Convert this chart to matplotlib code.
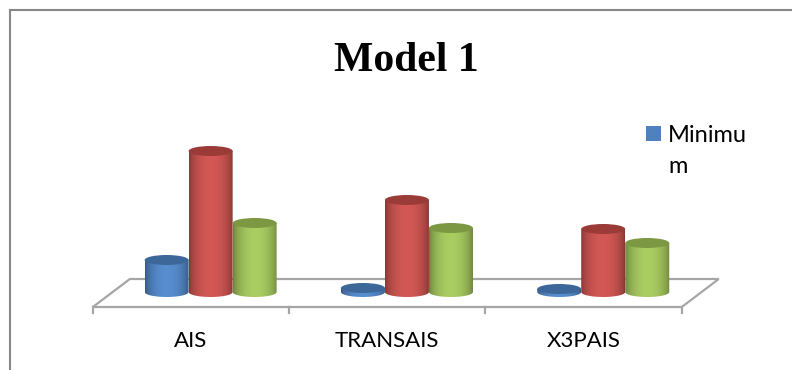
import numpy as np
import matplotlib
matplotlib.use("Agg")
import matplotlib.pyplot as plt
from matplotlib.path import Path
from matplotlib.patches import PathPatch, Ellipse, Polygon, Rectangle
from matplotlib.lines import Line2D

categories = ["AIS", "TRANSAIS", "X3PAIS"]
minimum = [32, 4, 3]
series_2 = [141, 92, 63]
series_3 = [69, 64, 49]
series = [minimum, series_2, series_3]

body_colors = ["#4F81BD", "#C0504D", "#9BBB59"]
top_colors = ["#3D6798", "#9A3B38", "#7C9842"]

W, H = 792, 370
fig = plt.figure(figsize=(W / 100, H / 100), dpi=100)
ax = fig.add_axes([0, 0, 1, 1])
ax.set_axis_off()

# category i sits at pixel column 191 + 196.3*i, value 0 at pixel row 292
px_per_cat = 196.3
x_left = -191 / px_per_cat
x_right = (W - 191) / px_per_cat
y_bottom, y_top = 292 - H, 292

bar_w = 44 / px_per_cat
depth = 37 / px_per_cat
shift = 0.1
ry = 5.0

# floor of the 3d plot
front, back = -15, 13
floor = Polygon([(-0.5, front), (2.5, front), (2.5 + depth, back), (-0.5 + depth, back)],
                closed=True, facecolor="white", edgecolor="#A6A6A6", lw=1.6, zorder=1)
ax.add_patch(floor)
for t in np.arange(-0.5, 3.0, 1.0):
    ax.plot([t, t], [front, front - 6], color="#A6A6A6", lw=1.6, zorder=1)


def shade(hex_color, n=64):
    base = np.array(matplotlib.colors.to_rgb(hex_color))
    t = np.linspace(0, 1, n)
    f = 0.68 + 0.42 * np.sin(np.pi * t) ** 0.6
    rgb = np.clip(base[None, :] * f[:, None], 0, 1)
    return rgb[None, :, :]


def cylinder(xc, h, color, top):
    x0, x1 = xc - bar_w / 2, xc + bar_w / 2
    ang = np.linspace(np.pi, 2 * np.pi, 40)
    pts = [(xc + bar_w / 2 * np.cos(a), ry * np.sin(a)) for a in ang]
    pts += [(x1, h), (x0, h), pts[0]]
    codes = [Path.MOVETO] + [Path.LINETO] * (len(pts) - 2) + [Path.CLOSEPOLY]
    body = PathPatch(Path(pts, codes), facecolor="none", edgecolor="none", zorder=3)
    ax.add_patch(body)
    im = ax.imshow(shade(color), extent=[x0, x1, -ry, h], aspect="auto",
                   interpolation="bilinear", zorder=3)
    im.set_clip_path(body)
    ax.add_patch(Ellipse((xc, h), bar_w, 2 * ry, facecolor=top,
                         edgecolor="none", zorder=4))


for i in range(len(categories)):
    for k, vals in enumerate(series):
        xc = i + shift + (k - 1) * bar_w
        cylinder(xc, vals[i], body_colors[k], top_colors[k])

for i, name in enumerate(categories):
    ax.text(i, 292 - 347, name, ha="center", va="baseline",
            fontsize=16, family="Lato", color="black")

ax.set_xlim(x_left, x_right)
ax.set_ylim(y_bottom, y_top)

# chart frame (top and left edges)
fx = lambda p: p / W
fy = lambda p: 1 - p / H
fig.add_artist(Line2D([fx(9.5), 1], [fy(9.5), fy(9.5)], color="#888888", lw=1.5,
                      transform=fig.transFigure))
fig.add_artist(Line2D([fx(9.5), fx(9.5)], [fy(9.5), 0], color="#888888", lw=1.5,
                      transform=fig.transFigure))

fig.text(fx(406), fy(71), "Model 1", ha="center", va="baseline",
         family="Liberation Serif", fontweight="bold", fontsize=30)

# legend entry
fig.add_artist(Rectangle((fx(646), fy(141)), 15 / W, 15 / H, facecolor="#4F81BD",
                         edgecolor="none", transform=fig.transFigure))
fig.text(fx(668), fy(142), "Minimu", ha="left", va="baseline", family="Lato", fontsize=17)
fig.text(fx(668), fy(173), "m", ha="left", va="baseline", family="Lato", fontsize=17)

fig.savefig("out.png", dpi=100)
